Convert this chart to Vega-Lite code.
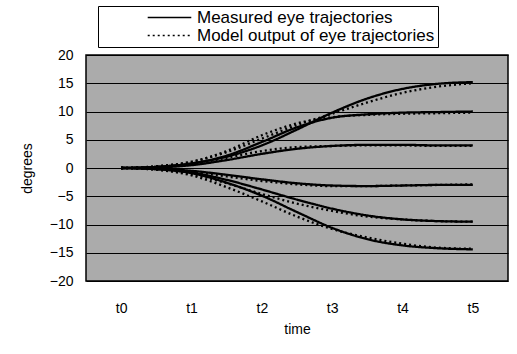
{
  "$schema": "https://vega.github.io/schema/vega-lite/v6.json",
  "width": 422,
  "height": 226,
  "autosize": {"type": "none"},
  "padding": {"left": 86, "top": 55, "right": 9, "bottom": 73},
  "background": "white",
  "config": {
    "font": "Liberation Sans",
    "view": {"fill": "#ababab", "stroke": "black", "strokeWidth": 1.5}
  },
  "data": {
    "values": [
      {"t":0,"traj":"A","M":0,"P":0},{"t":0.5,"traj":"A","M":0.2,"P":0.3},{"t":1,"traj":"A","M":0.8,"P":1.1},{"t":1.5,"traj":"A","M":2.0,"P":2.8},{"t":2,"traj":"A","M":4.0,"P":5.2},{"t":2.5,"traj":"A","M":6.8,"P":7.6},{"t":3,"traj":"A","M":9.8,"P":9.6},{"t":3.5,"traj":"A","M":12.3,"P":11.6},{"t":4,"traj":"A","M":14.0,"P":13.3},{"t":4.5,"traj":"A","M":14.9,"P":14.4},{"t":5,"traj":"A","M":15.2,"P":15.0},
      {"t":0,"traj":"B","M":0,"P":0},{"t":0.5,"traj":"B","M":0.2,"P":0.3},{"t":1,"traj":"B","M":0.8,"P":1.1},{"t":1.5,"traj":"B","M":2.2,"P":3.0},{"t":2,"traj":"B","M":4.6,"P":5.8},{"t":2.5,"traj":"B","M":7.2,"P":7.9},{"t":3,"traj":"B","M":8.9,"P":9.0},{"t":3.5,"traj":"B","M":9.5,"P":9.4},{"t":4,"traj":"B","M":9.8,"P":9.6},{"t":4.5,"traj":"B","M":9.9,"P":9.7},{"t":5,"traj":"B","M":10.0,"P":9.8},
      {"t":0,"traj":"C","M":0,"P":0},{"t":0.5,"traj":"C","M":0.1,"P":0.2},{"t":1,"traj":"C","M":0.5,"P":0.7},{"t":1.5,"traj":"C","M":1.4,"P":1.8},{"t":2,"traj":"C","M":2.5,"P":3.0},{"t":2.5,"traj":"C","M":3.4,"P":3.7},{"t":3,"traj":"C","M":3.9,"P":3.9},{"t":3.5,"traj":"C","M":4.1,"P":4.0},{"t":4,"traj":"C","M":4.1,"P":4.0},{"t":4.5,"traj":"C","M":4.0,"P":3.9},{"t":5,"traj":"C","M":4.0,"P":3.9},
      {"t":0,"traj":"D","M":0,"P":0},{"t":0.5,"traj":"D","M":-0.1,"P":-0.2},{"t":1,"traj":"D","M":-0.5,"P":-0.7},{"t":1.5,"traj":"D","M":-1.2,"P":-1.5},{"t":2,"traj":"D","M":-2.0,"P":-2.3},{"t":2.5,"traj":"D","M":-2.7,"P":-2.9},{"t":3,"traj":"D","M":-3.1,"P":-3.2},{"t":3.5,"traj":"D","M":-3.2,"P":-3.2},{"t":4,"traj":"D","M":-3.1,"P":-3.1},{"t":4.5,"traj":"D","M":-3.0,"P":-3.0},{"t":5,"traj":"D","M":-3.0,"P":-2.9},
      {"t":0,"traj":"E","M":0,"P":0},{"t":0.5,"traj":"E","M":-0.2,"P":-0.3},{"t":1,"traj":"E","M":-0.8,"P":-1.1},{"t":1.5,"traj":"E","M":-2.1,"P":-2.7},{"t":2,"traj":"E","M":-3.8,"P":-4.6},{"t":2.5,"traj":"E","M":-5.6,"P":-6.3},{"t":3,"traj":"E","M":-7.2,"P":-7.6},{"t":3.5,"traj":"E","M":-8.4,"P":-8.6},{"t":4,"traj":"E","M":-9.1,"P":-9.1},{"t":4.5,"traj":"E","M":-9.4,"P":-9.4},{"t":5,"traj":"E","M":-9.5,"P":-9.5},
      {"t":0,"traj":"F","M":0,"P":0},{"t":0.5,"traj":"F","M":-0.2,"P":-0.3},{"t":1,"traj":"F","M":-0.9,"P":-1.3},{"t":1.5,"traj":"F","M":-2.6,"P":-3.4},{"t":2,"traj":"F","M":-4.9,"P":-5.9},{"t":2.5,"traj":"F","M":-7.8,"P":-8.6},{"t":3,"traj":"F","M":-10.6,"P":-10.8},{"t":3.5,"traj":"F","M":-12.6,"P":-12.3},{"t":4,"traj":"F","M":-13.7,"P":-13.4},{"t":4.5,"traj":"F","M":-14.2,"P":-14.1},{"t":5,"traj":"F","M":-14.4,"P":-14.3}
    ]
  },
  "transform": [{"fold": ["M", "P"], "as": ["type", "v"]}],
  "mark": {"type": "line", "interpolate": "monotone", "color": "black", "strokeWidth": 2.3, "clip": true},
  "encoding": {
    "x": {
      "field": "t", "type": "quantitative",
      "scale": {"domain": [-0.5, 5.5], "nice": false, "zero": false},
      "axis": {
        "values": [0, 1, 2, 3, 4, 5],
        "labelExpr": "'t' + datum.value",
        "grid": false, "ticks": false, "domain": false,
        "labelFontSize": 14, "labelColor": "black", "labelPadding": 20,
        "title": "time", "titleFontSize": 14, "titleFontWeight": "normal", "titleColor": "black", "titlePadding": 7
      }
    },
    "y": {
      "field": "v", "type": "quantitative",
      "scale": {"domain": [-20, 20], "nice": false},
      "axis": {
        "values": [-20, -15, -10, -5, 0, 5, 10, 15, 20],
        "grid": true, "gridColor": "black", "gridOpacity": 1, "gridWidth": 1,
        "ticks": false, "domain": false,
        "labelFontSize": 14, "labelColor": "black", "labelPadding": 13,
        "title": "degrees", "titleFontSize": 14, "titleFontWeight": "normal", "titleColor": "black", "titlePadding": 15
      }
    },
    "detail": {"field": "traj"},
    "strokeDash": {
      "field": "type", "type": "nominal",
      "scale": {"domain": ["M", "P"], "range": [[1, 0], [2, 3]]},
      "legend": {
        "title": null,
        "orient": "none", "legendX": 12, "legendY": -49,
        "labelExpr": "datum.value == 'M' ? 'Measured eye trajectories' : 'Model output of eye trajectories'",
        "labelFontSize": 17, "labelColor": "black", "labelLimit": 400, "labelOffset": 5,
        "symbolType": "stroke", "symbolSize": 1900, "symbolStrokeWidth": 1.3, "symbolStrokeColor": "black",
        "symbolOffset": 46, "clipHeight": 17, "rowPadding": 0,
        "strokeColor": "black", "fillColor": "white", "padding": 3
      }
    }
  }
}
